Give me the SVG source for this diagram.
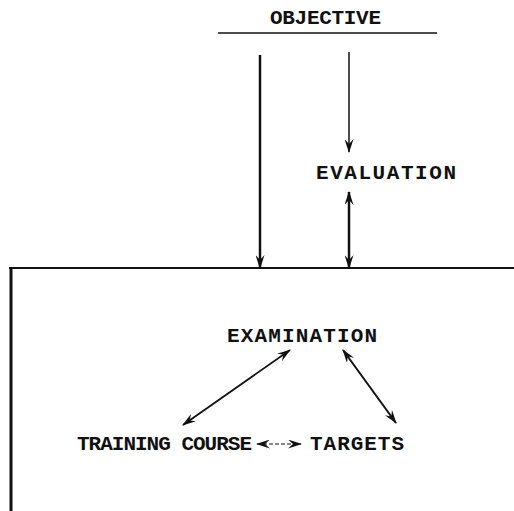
<svg xmlns="http://www.w3.org/2000/svg" width="514" height="511" viewBox="0 0 514 511">
<style>
.t{font-family:"Liberation Mono","DejaVu Sans Mono",monospace;font-weight:bold;font-size:21px;fill:#111}
.l{stroke:#111;fill:none;stroke-linecap:butt}
</style>
<defs>
<marker id="ah" viewBox="0 0 14 9" refX="13" refY="4.5" markerWidth="14" markerHeight="9" markerUnits="userSpaceOnUse" orient="auto-start-reverse">
<path d="M0,0 L14,4.5 L0,9 L5,4.5 Z" fill="#111"/>
</marker>
</defs>
<rect width="514" height="511" fill="#fff"/>
<g id="objective">
<text class="t" x="270" y="24" textLength="111" lengthAdjust="spacing">OBJECTIVE</text>
<line class="l" x1="218" y1="33" x2="437" y2="33" stroke-width="1.5"/>
</g>
<g id="evaluation">
<text class="t" x="316" y="179" textLength="140" lengthAdjust="spacing">EVALUATION</text>
</g>
<g id="system">
<line class="l" x1="9" y1="268" x2="514" y2="268" stroke-width="2"/>
<line class="l" x1="11" y1="267" x2="11" y2="511" stroke-width="3"/>
</g>
<g id="examination">
<text class="t" x="227" y="342" textLength="150" lengthAdjust="spacing">EXAMINATION</text>
</g>
<g id="training-course">
<text class="t" x="77" y="450" textLength="175" lengthAdjust="spacing">TRAINING COURSE</text>
</g>
<g id="targets">
<text class="t" x="310" y="450" textLength="94" lengthAdjust="spacing">TARGETS</text>
</g>
<g id="connectors">
<line class="l" x1="260" y1="55" x2="260" y2="268" stroke-width="2.5" marker-end="url(#ah)"/>
<line class="l" x1="349" y1="52" x2="349" y2="152" stroke-width="1.5" marker-end="url(#ah)"/>
<line class="l" x1="349" y1="192" x2="349" y2="268" stroke-width="2.5" marker-start="url(#ah)" marker-end="url(#ah)"/>
<line class="l" x1="183" y1="425" x2="290" y2="350" stroke-width="1.8" marker-start="url(#ah)" marker-end="url(#ah)"/>
<line class="l" x1="343" y1="350" x2="396" y2="423" stroke-width="2" marker-start="url(#ah)" marker-end="url(#ah)"/>
<line class="l" x1="257" y1="444" x2="301" y2="444" stroke-width="1.2" stroke-dasharray="4 2" marker-start="url(#ah)" marker-end="url(#ah)"/>
</g>
</svg>
